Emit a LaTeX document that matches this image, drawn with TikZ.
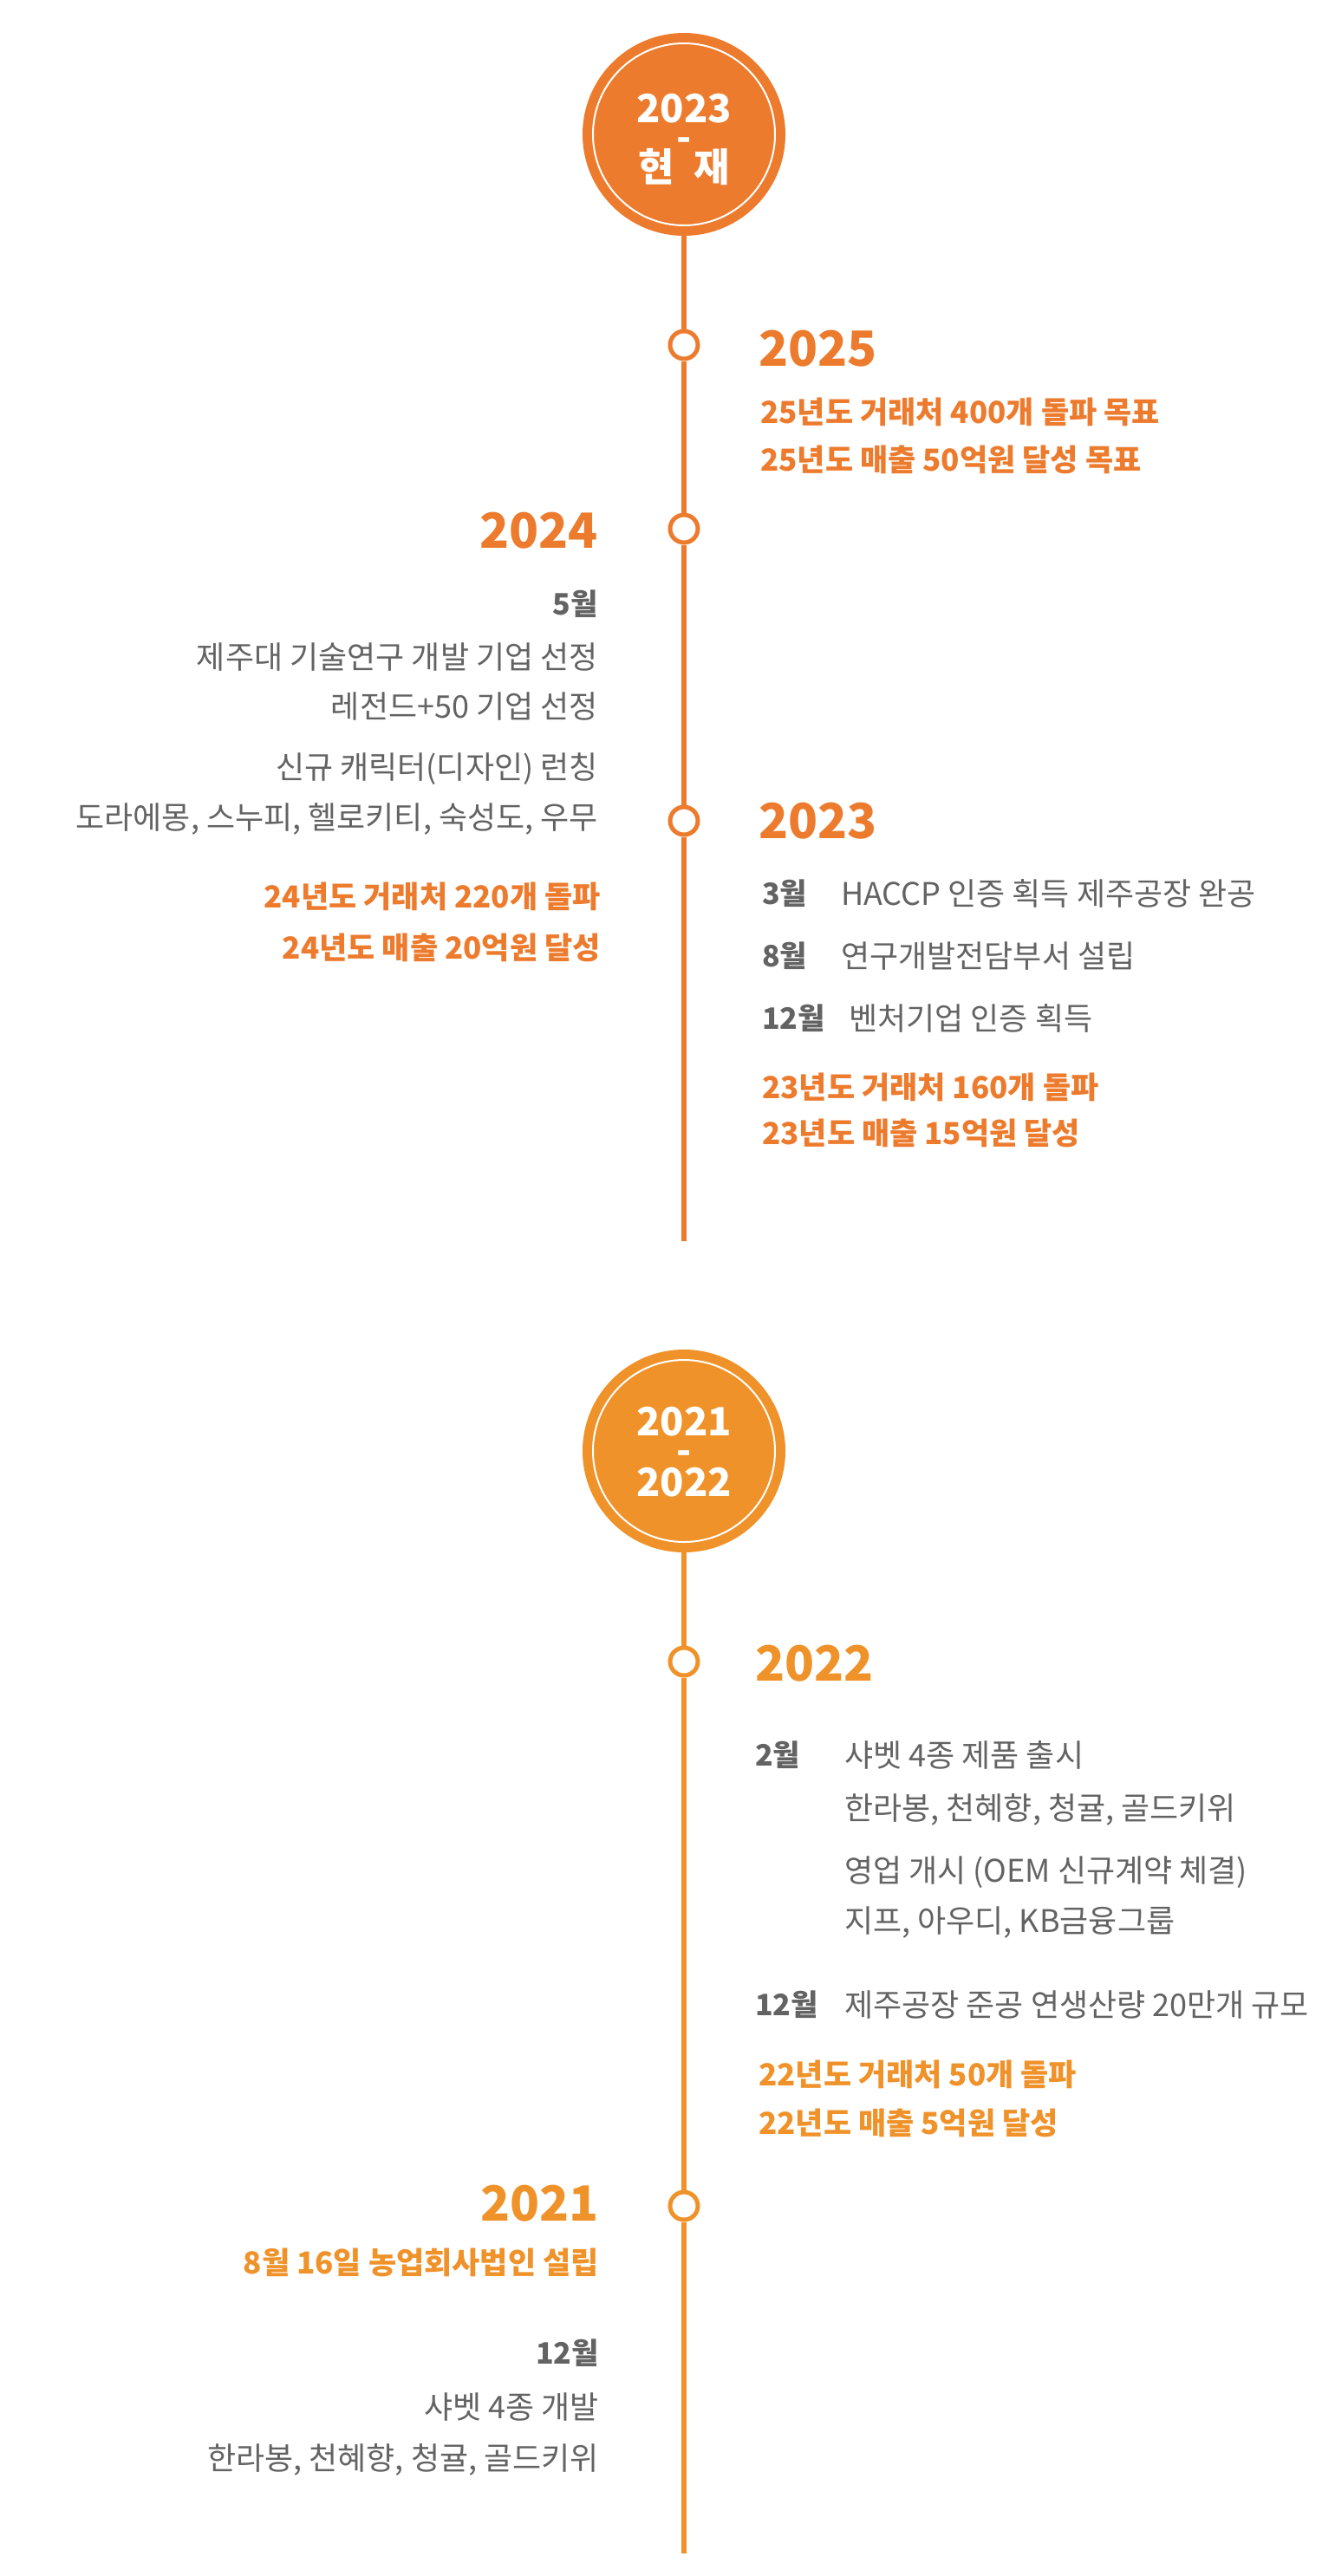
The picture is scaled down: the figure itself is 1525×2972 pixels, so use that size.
\documentclass[tikz,border=0pt]{standalone}
\usepackage{fontspec}
\setmainfont{Noto Sans CJK KR}
\definecolor{oA}{RGB}{237,123,45}
\definecolor{oB}{RGB}{240,146,42}
\definecolor{gt}{RGB}{99,99,99}
\begin{document}
\begin{tikzpicture}[x=1pt,y=-1pt,
  bigc/.style={circle, fill=#1, minimum size=234pt, inner sep=0pt},
  ring/.style={circle, draw=white, line width=2pt, minimum size=210pt, inner sep=0pt},
  ctext/.style={inner sep=0pt, text=white, align=center, font=\bfseries\fontsize{45}{33}\selectfont},
  mk/.style={circle, draw=#1, fill=white, line width=5pt, minimum size=32pt, inner sep=0pt},
  ln/.style={draw=#1, line width=6pt},
  yr/.style={inner sep=0pt, text=#1, text height=41pt, text depth=0pt, font=\bfseries\fontsize{56}{56}\selectfont},
  ot/.style={inner sep=0pt, text=#1, text height=26pt, text depth=0pt, font=\bfseries\fontsize{35}{35}\selectfont},
  gr/.style={inner sep=0pt, text=gt, text height=27pt, text depth=0pt, font=\fontsize{36}{36}\selectfont},
  gm/.style={inner sep=0pt, text=gt, text height=25.5pt, text depth=0pt, font=\bfseries\fontsize{34}{34}\selectfont}
]
\useasboundingbox (0,0) rectangle (1525,2972);
\fill[white] (0,0) rectangle (1525,2972);

% ---------- section 1 ----------
\node[bigc=oA] (c1) at (789,155) {};
\node[ring] (c1r) at (c1) {};
\node[ctext] (c1t) at (789,161) {2023\\-\\[-4pt]현\hspace{12pt} 재};

\coordinate (e1) at (789,1432);
\node[mk=oA] (m25) at (789,398) {};
\node[mk=oA] (m24) at (789,610) {};
\node[mk=oA] (m23) at (789,947) {};
\draw[ln=oA] (c1) -- (m25);
\draw[ln=oA] (m25) -- (m24);
\draw[ln=oA] (m24) -- (m23);
\draw[ln=oA] (m23) -- (e1);

% 2025
\node[yr=oA, anchor=west] (y25) at (875,402) {2025};
\node[ot=oA, anchor=west] (y25a) at (877,475) {25년도 거래처 400개 돌파 목표};
\node[ot=oA, anchor=west] (y25b) at (877,530) {25년도 매출 50억원 달성 목표};

% 2024
\node[yr=oA, anchor=east] (y24) at (690,612) {2024};
\node[gm, anchor=east] (y24m) at (690,697) {5월};
\node[gr, anchor=east] (y24a) at (690,758) {제주대 기술연구 개발 기업 선정};
\node[gr, anchor=east] (y24b) at (690,815) {레전드+50 기업 선정};
\node[gr, anchor=east] (y24c) at (690,885) {신규 캐릭터(디자인) 런칭};
\node[gr, anchor=east] (y24d) at (690,943) {도라에몽, 스누피, 헬로키티, 숙성도, 우무};
\node[ot=oA, anchor=east] (y24e) at (693,1034) {24년도 거래처 220개 돌파};
\node[ot=oA, anchor=east] (y24f) at (693,1093) {24년도 매출 20억원 달성};

% 2023
\node[yr=oA, anchor=west] (y23) at (875,947) {2023};
\node[gm, anchor=west] (y23m1) at (879,1031) {3월};
\node[gr, anchor=west] (y23a) at (970,1031) {HACCP 인증 획득 제주공장 완공};
\node[gm, anchor=west] (y23m2) at (879,1103) {8월};
\node[gr, anchor=west] (y23b) at (970,1103) {연구개발전담부서 설립};
\node[gm, anchor=west] (y23m3) at (879,1175) {12월};
\node[gr, anchor=west] (y23c) at (979,1175) {벤처기업 인증 획득};
\node[ot=oA, anchor=west] (y23d) at (879,1254) {23년도 거래처 160개 돌파};
\node[ot=oA, anchor=west] (y23e) at (879,1307) {23년도 매출 15억원 달성};

% ---------- section 2 ----------
\node[bigc=oB] (c2) at (789,1674) {};
\node[ring] (c2r) at (c2) {};
\node[ctext] (c2t) at (789,1675) {2021\\-\\[2pt]2022};

\coordinate (e2) at (789,2946);
\node[mk=oB] (m22) at (789,1917) {};
\node[mk=oB] (m21) at (789,2545) {};
\draw[ln=oB] (c2) -- (m22);
\draw[ln=oB] (m22) -- (m21);
\draw[ln=oB] (m21) -- (e2);

% 2022
\node[yr=oB, anchor=west] (y22) at (871,1919) {2022};
\node[gm, anchor=west] (y22m1) at (871,2025) {2월};
\node[gr, anchor=west] (y22a) at (974,2025) {샤벳 4종 제품 출시};
\node[gr, anchor=west] (y22b) at (974,2086) {한라봉, 천혜향, 청귤, 골드키위};
\node[gr, anchor=west] (y22c) at (974,2158) {영업 개시 (OEM 신규계약 체결)};
\node[gr, anchor=west] (y22d) at (974,2216) {지프, 아우디, KB금융그룹};
\node[gm, anchor=west] (y22m2) at (871,2313) {12월};
\node[gr, anchor=west] (y22e) at (974,2313) {제주공장 준공 연생산량 20만개 규모};
\node[ot=oB, anchor=west] (y22f) at (875,2393) {22년도 거래처 50개 돌파};
\node[ot=oB, anchor=west] (y22g) at (875,2449) {22년도 매출 5억원 달성};

% 2021
\node[yr=oB, anchor=east] (y21) at (691,2542) {2021};
\node[ot=oB, anchor=east] (y21a) at (691,2610) {8월 16일 농업회사법인 설립};
\node[gm, anchor=east] (y21m) at (691,2715) {12월};
\node[gr, anchor=east] (y21b) at (691,2777) {샤벳 4종 개발};
\node[gr, anchor=east] (y21c) at (691,2836) {한라봉, 천혜향, 청귤, 골드키위};
\end{tikzpicture}
\end{document}
